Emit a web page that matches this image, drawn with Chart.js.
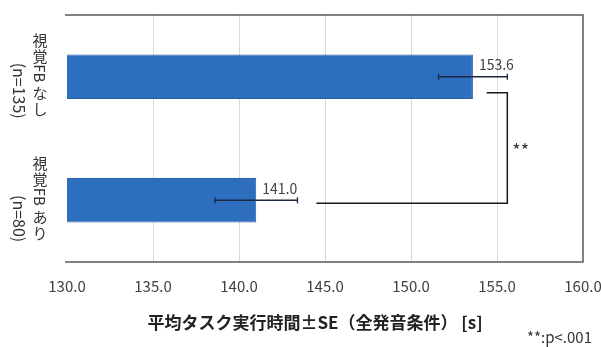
<!DOCTYPE html>
<html lang="ja">
<head>
<meta charset="utf-8">
<script src="https://cdn.jsdelivr.net/npm/chart.js@4.4.1/dist/chart.umd.min.js"></script>
<style>
  html, body { margin: 0; padding: 0; background: #fff; }
  #contenedor { width: 601px; height: 347px; position: relative; }
</style>
</head>
<body>
<div id="contenedor"><canvas id="graficoTiempos"></canvas></div>
<script>
// Datos
const CATEGORIAS = ['視覚FB なし', '視覚FB あり'];
const MUESTRAS = ['(n=135)', '(n=80)'];
const MEDIAS = [153.6, 141.0];
const ERRORES_SE = [2.0, 2.4];
const TICKS_X = [130, 135, 140, 145, 150, 155, 160];
const TITULO_X = '平均タスク実行時間±SE（全発音条件） [s]';
const SIGNIFICANCIA = '**';
const NOTA = '**:p<.001';

const FUENTE = '"Noto Sans CJK JP", "Noto Sans", sans-serif';
const AZUL = '#2d6fbe';

// Texto vertical: CJK de pie, latino girado 90°
function dibujarVertical(ctx, texto, x, yFinal, tam) {
    const trozos = [];
    let latino = '';
    for (const c of texto) {
        if (c.charCodeAt(0) > 0x2e7f) {
            if (latino) { trozos.push({ t: latino, rot: true }); latino = ''; }
            trozos.push({ t: c, rot: false });
        } else {
            latino += c;
        }
    }
    if (latino) trozos.push({ t: latino, rot: true });

    ctx.font = `${tam}px ${FUENTE}`;
    const largo = t => t.rot ? ctx.measureText(t.t).width : tam + 1;
    const total = trozos.reduce((s, t) => s + largo(t), 0);
    let y = yFinal - total;
    trozos.forEach(t => {
        const l = largo(t);
        if (t.rot) {
            ctx.save();
            ctx.translate(x, y);
            ctx.rotate(Math.PI / 2);
            ctx.textAlign = 'left';
            ctx.textBaseline = 'middle';
            ctx.fillText(t.t, 0, 0);
            ctx.restore();
        } else {
            ctx.textAlign = 'center';
            ctx.textBaseline = 'middle';
            ctx.fillText(t.t, x, y + l / 2);
        }
        y += l;
    });
}

// Etiquetas de categoría en vertical y título del eje
const etiquetasVerticales = {
    id: 'etiquetasVerticales',
    afterDraw(chart) {
        const { ctx, scales: { y } } = chart;
        ctx.save();
        ctx.fillStyle = '#333';
        CATEGORIAS.forEach((cat, i) => {
            const yc = y.getPixelForValue(i);
            dibujarVertical(ctx, cat, 40, yc + 41, 15);
            dibujarVertical(ctx, MUESTRAS[i], 19, yc + 42, 16);
        });

        ctx.fillStyle = '#222';
        ctx.font = `bold 17px ${FUENTE}`;
        ctx.textAlign = 'center';
        ctx.textBaseline = 'middle';
        ctx.fillText(TITULO_X, 315, 323);
        ctx.restore();
    }
};

// Barras de error, valores, corchete de significancia y marco
const extras = {
    id: 'extras',
    afterDatasetsDraw(chart) {
        const { ctx, chartArea: a, scales: { x, y } } = chart;
        ctx.save();

        // marco del área (sin lado izquierdo)
        ctx.strokeStyle = '#595959';
        ctx.lineWidth = 1.5;
        ctx.beginPath();
        ctx.moveTo(a.left - 2, a.top);
        ctx.lineTo(a.right, a.top);
        ctx.lineTo(a.right, a.bottom);
        ctx.lineTo(a.left - 2, a.bottom);
        ctx.stroke();

        MEDIAS.forEach((m, i) => {
            const yc = y.getPixelForValue(i);
            const x0 = x.getPixelForValue(m - ERRORES_SE[i]);
            const x1 = x.getPixelForValue(m + ERRORES_SE[i]);
            ctx.strokeStyle = '#1c2740';
            ctx.lineWidth = 1.3;
            ctx.beginPath();
            ctx.moveTo(x0, yc); ctx.lineTo(x1, yc);
            ctx.moveTo(x0, yc - 3); ctx.lineTo(x0, yc + 3);
            ctx.moveTo(x1, yc - 3); ctx.lineTo(x1, yc + 3);
            ctx.stroke();

            ctx.fillStyle = '#404040';
            ctx.font = `14px ${FUENTE}`;
            ctx.textAlign = 'left';
            ctx.textBaseline = 'middle';
            ctx.fillText(m.toFixed(1), x.getPixelForValue(m) + 6, yc - 12);
        });

        // corchete entre las dos barras
        const xc = x.getPixelForValue(155.6);
        const ya = y.getPixelForValue(0) + 16;
        const yb = y.getPixelForValue(1) + 3;
        ctx.strokeStyle = '#1a1a1a';
        ctx.lineWidth = 1.5;
        ctx.beginPath();
        ctx.moveTo(x.getPixelForValue(154.4), ya);
        ctx.lineTo(xc, ya);
        ctx.lineTo(xc, yb);
        ctx.lineTo(x.getPixelForValue(144.5), yb);
        ctx.stroke();

        ctx.fillStyle = '#333';
        ctx.font = `18px ${FUENTE}`;
        ctx.textAlign = 'left';
        ctx.textBaseline = 'middle';
        ctx.fillText(SIGNIFICANCIA, xc + 5, (ya + yb) / 2 + 2);

        ctx.font = `15px ${FUENTE}`;
        ctx.textAlign = 'right';
        ctx.fillText(NOTA, 592, 337);
        ctx.restore();
    }
};

new Chart(document.getElementById('graficoTiempos').getContext('2d'), {
    type: 'bar',
    data: {
        labels: CATEGORIAS,
        datasets: [{
            data: MEDIAS,
            backgroundColor: AZUL,
            borderColor: '#2862aa',
            borderWidth: 1,
            categoryPercentage: 1,
            barPercentage: 0.36
        }]
    },
    options: {
        indexAxis: 'y',
        responsive: true,
        maintainAspectRatio: false,
        animation: false,
        layout: { padding: { left: 67, right: 18, top: 15, bottom: 0 } },
        plugins: {
            legend: { display: false },
            tooltip: { enabled: false }
        },
        scales: {
            y: { display: false },
            x: {
                min: 130,
                max: 160,
                afterBuildTicks: s => { s.ticks = TICKS_X.map(v => ({ value: v })); },
                afterFit: s => { s.height = 85; s.paddingLeft = 0; s.paddingRight = 0; },
                border: { display: false },
                grid: {
                    drawTicks: false,
                    color: c => (c.index === 0 || c.index === TICKS_X.length - 1) ? 'rgba(0,0,0,0)' : '#d9d9d9',
                    lineWidth: 1
                },
                ticks: {
                    padding: 15,
                    color: '#404040',
                    font: { family: FUENTE, size: 15 },
                    callback: v => Number(v).toFixed(1)
                },
                title: { display: false }
            }
        }
    },
    plugins: [etiquetasVerticales, extras]
});
</script>
</body>
</html>
